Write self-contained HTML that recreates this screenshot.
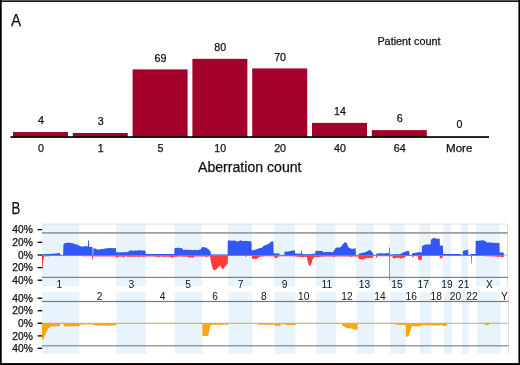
<!DOCTYPE html>
<html><head><meta charset="utf-8"><title>Figure</title>
<style>html,body{margin:0;padding:0;background:#fff}svg{display:block}text{font-family:"Liberation Sans",sans-serif;fill:#111}</style>
</head><body>
<svg width="520" height="365" viewBox="0 0 520 365">
<rect x="0" y="0" width="520" height="365" fill="#fff"/>
<text x="11.1" y="25.6" font-size="16.2" textLength="10.1" lengthAdjust="spacingAndGlyphs" stroke="#111" stroke-width="0.25">A</text>
<rect x="13.00" y="132.05" width="55" height="5.05" fill="#a20029"/>
<text x="40.90" y="124.00" font-size="10.7" text-anchor="middle" stroke="#111" stroke-width="0.25">4</text>
<text x="40.90" y="152.10" font-size="10.7" text-anchor="middle" stroke="#111" stroke-width="0.25">0</text>
<rect x="72.80" y="133.01" width="55" height="4.09" fill="#a20029"/>
<text x="100.70" y="125.00" font-size="10.7" text-anchor="middle" stroke="#111" stroke-width="0.25">3</text>
<text x="100.70" y="152.10" font-size="10.7" text-anchor="middle" stroke="#111" stroke-width="0.25">1</text>
<rect x="132.60" y="69.42" width="55" height="67.68" fill="#a20029"/>
<text x="160.50" y="61.90" font-size="10.7" text-anchor="middle" stroke="#111" stroke-width="0.25">69</text>
<text x="160.50" y="152.10" font-size="10.7" text-anchor="middle" stroke="#111" stroke-width="0.25">5</text>
<rect x="192.40" y="58.82" width="55" height="78.28" fill="#a20029"/>
<text x="220.30" y="51.10" font-size="10.7" text-anchor="middle" stroke="#111" stroke-width="0.25">80</text>
<text x="220.30" y="152.10" font-size="10.7" text-anchor="middle" stroke="#111" stroke-width="0.25">10</text>
<rect x="252.20" y="68.45" width="55" height="68.65" fill="#a20029"/>
<text x="280.10" y="61.40" font-size="10.7" text-anchor="middle" stroke="#111" stroke-width="0.25">70</text>
<text x="280.10" y="152.10" font-size="10.7" text-anchor="middle" stroke="#111" stroke-width="0.25">20</text>
<rect x="312.00" y="122.85" width="55" height="14.25" fill="#a20029"/>
<text x="339.90" y="115.00" font-size="10.7" text-anchor="middle" stroke="#111" stroke-width="0.25">14</text>
<text x="339.90" y="152.10" font-size="10.7" text-anchor="middle" stroke="#111" stroke-width="0.25">40</text>
<rect x="371.80" y="130.12" width="55" height="6.98" fill="#a20029"/>
<text x="399.70" y="122.00" font-size="10.7" text-anchor="middle" stroke="#111" stroke-width="0.25">6</text>
<text x="399.70" y="152.10" font-size="10.7" text-anchor="middle" stroke="#111" stroke-width="0.25">64</text>
<text x="459.50" y="128.00" font-size="10.7" text-anchor="middle" stroke="#111" stroke-width="0.25">0</text>
<text x="446" y="152.1" font-size="11" textLength="26.4" lengthAdjust="spacingAndGlyphs" stroke="#111" stroke-width="0.25">More</text>
<rect x="10.4" y="136.20" width="478.6" height="1.7" fill="#000"/>
<text x="377.4" y="45" font-size="11.2" textLength="63.2" lengthAdjust="spacingAndGlyphs" stroke="#111" stroke-width="0.25">Patient count</text>
<text x="198" y="172.4" font-size="14" textLength="103.5" lengthAdjust="spacingAndGlyphs" stroke="#111" stroke-width="0.25">Aberration count</text>
<text x="11.4" y="214" font-size="15.6" textLength="8.8" lengthAdjust="spacingAndGlyphs" stroke="#111" stroke-width="0.25">B</text>
<rect x="42.00" y="223.9" width="37.20" height="62.3" fill="#e8f3fc"/>
<rect x="42.00" y="292.3" width="37.28" height="61.5" fill="#e8f3fc"/>
<rect x="116.20" y="223.9" width="29.55" height="62.3" fill="#e8f3fc"/>
<rect x="116.36" y="292.3" width="29.61" height="61.5" fill="#e8f3fc"/>
<rect x="174.50" y="223.9" width="27.40" height="62.3" fill="#e8f3fc"/>
<rect x="174.78" y="292.3" width="27.46" height="61.5" fill="#e8f3fc"/>
<rect x="228.10" y="223.9" width="23.90" height="62.3" fill="#e8f3fc"/>
<rect x="228.49" y="292.3" width="23.95" height="61.5" fill="#e8f3fc"/>
<rect x="274.10" y="223.9" width="20.90" height="62.3" fill="#e8f3fc"/>
<rect x="274.59" y="292.3" width="20.94" height="61.5" fill="#e8f3fc"/>
<rect x="315.80" y="223.9" width="19.60" height="62.3" fill="#e8f3fc"/>
<rect x="316.37" y="292.3" width="19.64" height="61.5" fill="#e8f3fc"/>
<rect x="356.10" y="223.9" width="17.50" height="62.3" fill="#e8f3fc"/>
<rect x="356.76" y="292.3" width="17.54" height="61.5" fill="#e8f3fc"/>
<rect x="389.45" y="223.9" width="15.55" height="62.3" fill="#e8f3fc"/>
<rect x="390.18" y="292.3" width="15.58" height="61.5" fill="#e8f3fc"/>
<rect x="419.00" y="223.9" width="11.60" height="62.3" fill="#e8f3fc"/>
<rect x="419.79" y="292.3" width="11.62" height="61.5" fill="#e8f3fc"/>
<rect x="443.00" y="223.9" width="8.30" height="62.3" fill="#e8f3fc"/>
<rect x="443.84" y="292.3" width="8.32" height="61.5" fill="#e8f3fc"/>
<rect x="461.10" y="223.9" width="6.90" height="62.3" fill="#e8f3fc"/>
<rect x="461.98" y="292.3" width="6.91" height="61.5" fill="#e8f3fc"/>
<rect x="476.25" y="223.9" width="23.35" height="62.3" fill="#e8f3fc"/>
<rect x="477.16" y="292.3" width="23.40" height="61.5" fill="#e8f3fc"/>
<path d="M42 224.1H507.5V286.2" fill="none" stroke="#e0e0e0" stroke-width="1"/>
<path d="M508.5 292.3V353.8" fill="none" stroke="#e0e0e0" stroke-width="1"/>
<rect x="42" y="232.05" width="465.80" height="1.70" fill="#9c9c9c"/>
<rect x="42" y="276.80" width="465.80" height="1.20" fill="#808080"/>
<rect x="42" y="300.90" width="466.80" height="1.20" fill="#7a7a7a"/>
<rect x="42" y="345.23" width="466.80" height="1.15" fill="#808080"/>
<rect x="42" y="254.7" width="465.5" height="0.9" fill="#a8a8a8"/>
<rect x="42" y="322.8" width="466.5" height="0.9" fill="#b9ab92"/>
<rect x="37.6" y="228.95" width="4.6" height="1.3" fill="#000"/>
<text x="32.8" y="233.30" font-size="10.25" text-anchor="end" stroke="#111" stroke-width="0.25">40%</text>
<rect x="37.6" y="241.65" width="4.6" height="1.3" fill="#000"/>
<text x="32.8" y="246.00" font-size="10.25" text-anchor="end" stroke="#111" stroke-width="0.25">20%</text>
<rect x="37.6" y="254.35" width="4.6" height="1.3" fill="#000"/>
<text x="32.8" y="258.70" font-size="10.25" text-anchor="end" stroke="#111" stroke-width="0.25">0%</text>
<rect x="37.6" y="266.95" width="4.6" height="1.3" fill="#000"/>
<text x="32.8" y="271.30" font-size="10.25" text-anchor="end" stroke="#111" stroke-width="0.25">20%</text>
<rect x="37.6" y="279.55" width="4.6" height="1.3" fill="#000"/>
<text x="32.8" y="283.90" font-size="10.25" text-anchor="end" stroke="#111" stroke-width="0.25">40%</text>
<rect x="37.6" y="297.55" width="4.6" height="1.3" fill="#000"/>
<text x="32.8" y="301.90" font-size="10.25" text-anchor="end" stroke="#111" stroke-width="0.25">40%</text>
<rect x="37.6" y="310.10" width="4.6" height="1.3" fill="#000"/>
<text x="32.8" y="314.45" font-size="10.25" text-anchor="end" stroke="#111" stroke-width="0.25">20%</text>
<rect x="37.6" y="322.60" width="4.6" height="1.3" fill="#000"/>
<text x="32.8" y="326.95" font-size="10.25" text-anchor="end" stroke="#111" stroke-width="0.25">0%</text>
<rect x="37.6" y="335.25" width="4.6" height="1.3" fill="#000"/>
<text x="32.8" y="339.60" font-size="10.25" text-anchor="end" stroke="#111" stroke-width="0.25">20%</text>
<rect x="37.6" y="347.65" width="4.6" height="1.3" fill="#000"/>
<text x="32.8" y="352.00" font-size="10.25" text-anchor="end" stroke="#111" stroke-width="0.25">40%</text>
<polygon fill="#3356f4" points="42.50,255.20 42.50,254.30 43.12,254.27 43.75,254.23 44.38,254.20 45.00,254.17 45.62,254.13 46.25,254.10 46.88,254.07 47.50,254.03 48.12,254.00 48.75,253.97 49.38,253.93 50.00,253.90 50.62,253.86 51.25,253.82 51.88,253.79 52.50,253.75 53.12,253.71 53.75,253.57 54.38,253.43 55.00,253.60 55.62,253.64 56.25,253.24 56.88,253.47 57.50,253.32 58.12,253.08 58.75,253.30 59.38,252.97 60.00,253.20 60.40,255.00 60.40,255.20"/>
<polygon fill="#3356f4" points="63.20,255.20 63.20,255.00 63.40,245.00 64.20,243.40 64.90,243.24 65.60,242.89 66.30,242.78 67.00,242.90 67.60,242.83 68.20,243.06 68.80,242.61 69.40,242.65 70.00,242.80 70.67,242.98 71.33,243.27 72.00,243.10 72.60,243.33 73.20,243.40 73.80,243.93 74.40,243.55 75.00,244.00 75.67,244.48 76.33,244.41 77.00,244.59 77.67,244.84 78.33,245.22 79.00,245.60 79.60,246.03 80.20,245.89 80.80,246.37 81.40,246.64 82.00,246.80 82.67,246.62 83.33,246.63 84.00,246.24 84.67,246.14 85.33,246.12 86.00,246.20 86.63,246.37 87.27,246.29 87.90,246.40 88.10,241.00 88.50,239.80 89.00,241.00 89.30,246.80 89.96,246.73 90.62,246.93 91.28,246.89 91.94,246.84 92.60,247.00 92.60,255.20"/>
<polygon fill="#3356f4" points="93.20,255.20 93.20,255.00 93.30,248.00 93.97,248.43 94.65,248.62 95.33,248.60 96.00,249.00 96.67,249.24 97.33,249.42 98.00,249.60 98.62,249.75 99.25,249.59 99.88,249.25 100.50,249.59 101.12,249.00 101.75,249.10 102.38,249.23 103.00,249.00 103.61,248.66 104.23,248.74 104.84,248.34 105.46,248.59 106.07,248.52 106.69,248.27 107.30,248.10 107.97,248.31 108.64,247.96 109.31,248.17 109.99,248.10 110.66,248.08 111.33,247.99 112.00,248.00 112.65,248.22 113.30,248.30 113.95,248.03 114.60,248.17 115.25,247.82 115.90,248.10 116.10,252.10 116.76,252.25 117.41,252.25 118.07,252.50 118.72,252.43 119.38,252.14 120.03,252.23 120.69,252.43 121.34,252.08 122.00,252.40 122.62,252.35 123.25,252.15 123.88,252.10 124.50,252.04 125.12,252.44 125.75,252.03 126.38,252.07 127.00,252.20 127.75,251.73 128.50,251.40 129.13,251.36 129.77,250.62 130.40,250.60 131.03,250.56 131.67,250.61 132.30,250.81 132.93,250.76 133.57,250.78 134.20,250.42 134.83,250.49 135.47,250.45 136.10,250.76 136.73,250.79 137.37,250.30 138.00,250.50 138.61,250.31 139.22,250.36 139.82,250.37 140.43,250.52 141.04,250.60 141.65,250.41 142.26,250.26 142.87,250.52 143.48,250.50 144.08,250.62 144.69,250.86 145.30,250.60 145.70,253.90 146.32,253.90 146.94,253.90 147.57,253.90 148.19,253.90 148.81,253.90 149.43,253.90 150.05,253.90 150.67,253.90 151.30,253.90 151.92,253.90 152.54,253.90 153.16,253.90 153.78,253.90 154.40,253.90 155.03,253.90 155.65,253.90 156.27,253.90 156.89,253.90 157.51,253.90 158.13,253.90 158.76,253.90 159.38,253.90 160.00,253.90 160.62,253.90 161.24,253.91 161.87,253.91 162.49,253.92 163.11,253.92 163.73,253.93 164.35,253.93 164.97,253.93 165.60,253.94 166.22,253.94 166.84,253.95 167.46,253.95 168.08,253.96 168.70,253.96 169.33,253.97 169.95,253.97 170.57,253.97 171.19,253.98 171.81,253.98 172.43,253.99 173.06,253.99 173.68,254.00 174.30,254.00 174.50,248.00 175.20,248.05 175.90,247.89 176.60,247.89 177.30,247.87 178.00,247.70 178.61,247.49 179.23,248.05 179.84,248.04 180.46,248.15 181.07,248.16 181.69,247.98 182.30,248.10 182.60,249.80 183.22,249.77 183.83,249.63 184.45,249.98 185.07,249.67 185.68,249.71 186.30,249.83 186.92,249.83 187.53,249.97 188.15,249.83 188.77,249.83 189.38,249.96 190.00,250.20 190.60,249.94 191.20,250.08 191.80,249.86 192.40,250.34 193.00,250.17 193.60,249.87 194.20,249.91 194.80,249.95 195.40,249.94 196.00,249.77 196.60,250.19 197.20,250.26 197.80,249.92 198.40,249.91 199.00,249.90 199.67,249.48 200.33,249.33 201.00,249.40 201.40,247.80 202.20,247.31 203.00,247.00 203.67,246.99 204.33,247.46 205.00,247.40 205.67,247.43 206.33,247.58 207.00,248.10 207.67,248.94 208.33,249.25 209.00,249.80 209.80,250.49 210.60,251.60 210.90,254.60 211.51,254.60 212.11,254.60 212.72,254.60 213.33,254.60 213.93,254.60 214.54,254.60 215.15,254.60 215.75,254.60 216.36,254.60 216.97,254.60 217.57,254.60 218.18,254.60 218.79,254.60 219.39,254.60 220.00,254.60 220.63,254.60 221.27,254.60 221.90,254.60 222.53,254.60 223.17,254.60 223.80,254.60 224.43,254.60 225.07,254.60 225.70,254.60 226.33,254.60 226.97,254.60 227.60,254.60 227.80,240.60 228.50,240.61 229.20,240.28 229.90,240.57 230.60,240.82 231.30,240.73 232.00,240.50 232.63,240.65 233.27,240.42 233.90,240.52 234.53,240.43 235.17,240.83 235.80,240.70 237.00,241.80 237.75,241.52 238.50,241.20 239.13,241.10 239.77,240.56 240.40,240.40 241.02,240.30 241.64,240.72 242.27,240.89 242.89,240.88 243.51,240.92 244.13,240.99 244.76,241.01 245.38,240.77 246.00,241.00 246.67,241.08 247.34,241.06 248.01,240.93 248.69,241.00 249.36,241.22 250.03,241.28 250.70,241.50 251.50,241.60 251.70,250.40 252.36,250.36 253.02,250.35 253.68,249.89 254.34,250.02 255.00,249.60 255.60,249.73 256.20,249.55 256.80,249.04 257.40,248.79 258.00,248.80 258.67,248.42 259.33,248.18 260.00,247.97 260.67,248.01 261.33,247.96 262.00,247.50 262.85,246.85 263.70,245.80 264.37,245.54 265.03,245.39 265.70,245.23 266.37,244.55 267.03,244.65 267.70,244.30 268.30,244.11 268.90,243.60 269.50,243.00 270.30,242.40 271.10,241.50 271.87,241.49 272.63,241.31 273.40,241.50 273.60,253.30 274.24,253.47 274.89,253.20 275.53,253.48 276.18,253.58 276.82,253.24 277.47,253.24 278.11,253.57 278.76,253.43 279.40,253.30 279.60,255.00 279.60,255.20"/>
<polygon fill="#3356f4" points="284.30,255.20 284.30,255.00 284.50,251.90 285.20,251.60 285.90,251.48 286.60,251.39 287.30,251.74 288.00,251.40 288.60,251.46 289.20,250.95 289.80,251.24 290.40,251.21 291.00,250.80 291.64,250.81 292.28,250.55 292.92,250.59 293.56,250.26 294.20,250.40 294.90,250.60 295.10,253.50 295.76,253.21 296.41,253.78 297.07,253.59 297.72,253.52 298.38,253.76 299.03,253.46 299.69,253.72 300.34,253.70 301.00,253.50 301.40,250.80 302.00,250.80 302.30,254.30 302.94,254.30 303.58,254.30 304.23,254.30 304.87,254.30 305.51,254.30 306.15,254.30 306.79,254.30 307.43,254.30 308.07,254.30 308.72,254.30 309.36,254.30 310.00,254.30 310.67,254.13 311.33,253.97 312.00,253.80 312.64,253.80 313.28,253.80 313.92,253.80 314.56,253.80 315.20,253.80 315.40,251.00 316.01,250.83 316.62,250.85 317.22,250.88 317.83,250.84 318.44,251.05 319.05,250.86 319.66,250.95 320.27,250.78 320.88,251.25 321.48,250.91 322.09,250.97 322.70,251.00 323.00,252.10 323.62,252.15 324.25,252.34 324.88,252.05 325.50,252.35 326.12,252.10 326.75,252.12 327.38,252.11 328.00,251.81 328.62,252.06 329.25,251.91 329.88,251.80 330.50,252.28 331.12,251.90 331.75,252.08 332.38,252.24 333.00,252.10 333.75,251.08 334.50,250.00 335.25,248.65 336.00,247.50 336.66,247.50 337.31,247.50 337.97,247.63 338.63,247.21 339.29,247.46 339.94,247.26 340.60,247.40 341.23,246.40 341.87,245.83 342.50,244.80 343.20,243.97 343.90,243.17 344.60,242.30 345.45,242.51 346.30,242.40 347.50,245.00 348.60,247.50 349.28,248.03 349.96,248.03 350.64,248.41 351.32,248.62 352.00,248.90 352.60,248.77 353.20,248.75 353.80,248.47 354.40,248.39 355.00,248.22 355.60,248.10 355.90,255.00 355.90,255.20"/>
<polygon fill="#3356f4" points="358.80,255.20 358.80,255.00 359.00,253.30 359.60,253.46 360.20,253.22 360.80,253.23 361.40,253.17 362.00,252.80 362.67,252.52 363.33,252.57 364.00,252.67 364.67,252.47 365.33,251.92 366.00,252.00 366.67,251.44 367.33,251.30 368.00,251.00 368.80,250.24 369.60,250.00 370.30,250.34 371.00,251.00 371.67,251.51 372.33,252.64 373.00,253.30 373.30,255.00 373.30,255.20"/>
<polygon fill="#3356f4" points="376.20,255.20 376.20,255.00 376.40,253.40 377.00,253.55 377.60,253.60 378.20,253.14 378.80,253.46 379.40,253.41 380.00,253.30 380.64,253.09 381.27,253.53 381.91,253.58 382.54,253.13 383.18,253.57 383.81,253.24 384.45,253.29 385.09,253.59 385.72,253.50 386.36,253.10 386.99,253.26 387.63,253.31 388.26,253.20 388.90,253.30 389.00,247.50 389.70,247.50 389.80,254.60 390.52,254.55 391.25,254.50 391.98,254.45 392.70,254.40 393.31,254.38 393.92,254.37 394.52,254.35 395.13,254.33 395.74,254.32 396.35,254.30 396.96,254.28 397.57,254.27 398.18,254.25 398.78,254.23 399.39,254.22 400.00,254.20 400.70,253.85 401.40,253.32 402.10,253.04 402.80,252.93 403.50,252.16 404.20,252.10 404.80,251.90 405.40,251.60 406.00,251.40 406.77,250.98 407.53,251.03 408.30,251.00 409.30,251.20 409.50,255.00 409.50,255.20"/>
<polygon fill="#3356f4" points="411.90,255.20 411.90,255.00 412.10,253.30 412.83,253.25 413.55,253.06 414.27,252.66 415.00,252.80 415.60,252.99 416.20,252.77 416.80,252.78 417.40,252.16 418.00,252.30 418.63,252.18 419.27,252.06 419.90,252.52 420.53,252.23 421.17,252.16 421.80,252.40 422.00,246.10 422.67,245.69 423.33,245.61 424.00,245.00 424.67,244.99 425.33,244.46 426.00,244.40 426.67,244.19 427.34,244.65 428.01,244.44 428.69,244.52 429.36,244.15 430.03,244.13 430.70,244.40 430.90,239.80 431.70,239.31 432.50,238.60 433.25,238.16 434.00,237.80 434.67,237.81 435.33,238.60 436.00,238.60 436.62,238.71 437.23,238.85 437.85,238.45 438.47,238.95 439.08,238.51 439.70,238.80 439.90,245.40 440.50,245.66 441.10,245.45 441.70,245.42 442.30,245.59 442.90,245.60 443.10,254.00 443.74,254.00 444.37,254.00 445.01,254.00 445.64,254.00 446.28,254.00 446.91,254.00 447.55,254.00 448.19,254.00 448.82,254.00 449.46,254.00 450.09,254.00 450.73,254.00 451.36,254.00 452.00,254.00 452.60,254.00 453.20,254.00 453.80,254.00 454.40,254.00 455.00,254.00 455.60,254.00 456.20,254.00 456.80,254.00 457.40,254.00 458.00,254.00 458.60,254.00 459.20,254.00 459.80,254.00 460.40,254.00 461.00,254.00 461.30,255.00 461.30,255.20"/>
<polygon fill="#3356f4" points="462.70,255.20 462.70,255.00 462.90,250.80 463.52,250.94 464.14,250.42 464.76,250.22 465.38,250.34 466.00,250.20 466.73,249.91 467.47,249.70 468.20,249.80 468.40,255.00 468.40,255.20"/>
<polygon fill="#3356f4" points="470.40,255.20 470.40,255.00 470.50,254.00 471.12,254.00 471.75,254.00 472.38,254.00 473.00,254.00 473.62,254.00 474.25,254.00 474.88,254.00 475.50,254.00 475.70,241.00 476.36,240.76 477.02,240.65 477.68,240.70 478.34,240.73 479.00,240.80 479.70,240.56 480.40,240.72 481.10,240.31 481.80,240.32 482.50,240.20 483.25,240.21 484.00,240.60 484.60,240.89 485.20,241.07 485.80,241.59 486.40,241.83 487.00,242.50 487.60,242.66 488.20,242.57 488.80,242.37 489.40,242.56 490.00,242.86 490.60,242.38 491.20,242.83 491.80,242.62 492.40,242.68 493.00,242.70 493.65,242.92 494.30,242.68 494.95,242.76 495.60,242.89 496.25,243.09 496.90,242.73 497.55,243.04 498.20,242.98 498.85,242.96 499.50,242.90 499.70,252.50 500.37,252.48 501.03,252.48 501.70,252.33 502.37,252.41 503.03,252.41 503.70,252.70 503.90,255.00 503.90,255.20"/>
<polygon fill="#ff3b3b" points="42.00,255.20 42.00,269.00 42.60,268.60 43.00,262.00 43.60,258.00 44.40,256.40 45.02,256.37 45.64,256.33 46.27,256.30 46.89,256.27 47.51,256.23 48.13,256.20 48.76,256.17 49.38,256.13 50.00,256.10 50.62,256.09 51.25,256.09 51.88,256.08 52.50,256.08 53.12,256.07 53.75,256.06 54.38,256.06 55.00,256.05 55.62,256.04 56.25,256.04 56.88,256.03 57.50,256.02 58.12,256.02 58.75,256.01 59.38,256.01 60.00,256.00 60.60,255.98 61.20,255.96 61.80,255.94 62.40,255.92 63.00,255.90 63.61,255.90 64.21,255.91 64.82,255.91 65.43,255.91 66.04,255.92 66.64,255.92 67.25,255.93 67.86,255.93 68.46,255.93 69.07,255.94 69.68,255.94 70.29,255.94 70.89,255.95 71.50,255.95 72.11,255.95 72.71,255.96 73.32,255.96 73.93,255.96 74.54,255.97 75.14,255.97 75.75,255.97 76.36,255.98 76.96,255.98 77.57,255.99 78.18,255.99 78.79,255.99 79.39,256.00 80.00,256.00 80.62,256.05 81.25,256.10 81.88,256.15 82.50,256.20 83.12,256.25 83.75,256.30 84.38,256.35 85.00,256.40 85.64,256.38 86.27,256.36 86.91,256.35 87.55,256.33 88.18,256.31 88.82,256.29 89.45,256.27 90.09,256.25 90.73,256.24 91.36,256.22 92.00,256.20 92.10,259.60 92.90,259.60 93.00,256.40 93.62,256.41 94.25,256.42 94.88,256.44 95.50,256.45 96.12,256.46 96.75,256.48 97.38,256.49 98.00,256.50 98.64,256.51 99.27,256.52 99.91,256.53 100.55,256.54 101.18,256.55 101.82,256.55 102.45,256.56 103.09,256.57 103.73,256.58 104.36,256.59 105.00,256.60 105.61,256.59 106.22,256.59 106.83,256.58 107.44,256.58 108.06,256.57 108.67,256.57 109.28,256.56 109.89,256.56 110.50,256.55 111.11,256.54 111.72,256.54 112.33,256.53 112.94,256.53 113.56,256.52 114.17,256.52 114.78,256.51 115.39,256.51 116.00,256.50 116.40,257.60 116.80,258.00 117.60,257.00 118.30,256.92 119.00,256.60 119.70,256.64 120.40,256.68 121.10,256.60 121.80,256.59 122.50,256.80 123.50,257.60 124.50,256.60 125.12,256.61 125.74,256.61 126.35,256.62 126.97,256.62 127.59,256.63 128.21,256.64 128.82,256.64 129.44,256.65 130.06,256.65 130.68,256.66 131.29,256.66 131.91,256.67 132.53,256.68 133.15,256.68 133.76,256.69 134.38,256.69 135.00,256.70 135.62,256.69 136.23,256.68 136.85,256.68 137.46,256.67 138.08,256.66 138.69,256.65 139.31,256.65 139.92,256.64 140.54,256.63 141.15,256.62 141.77,256.62 142.38,256.61 143.00,256.60 144.00,257.60 145.00,256.60 145.62,256.59 146.25,256.58 146.88,256.56 147.50,256.55 148.12,256.54 148.75,256.52 149.38,256.51 150.00,256.50 150.60,256.52 151.20,256.53 151.80,256.55 152.40,256.56 153.00,256.58 153.60,256.59 154.20,256.61 154.80,256.62 155.40,256.64 156.00,256.65 156.60,256.67 157.20,256.68 157.80,256.70 158.80,257.40 160.00,256.60 160.62,256.62 161.25,256.65 161.88,256.68 162.50,256.49 163.12,256.90 163.75,256.94 164.38,256.86 165.00,256.80 165.60,256.69 166.20,256.67 166.80,256.70 167.40,256.78 168.00,256.63 168.60,256.77 169.20,256.68 169.80,257.03 170.40,257.04 171.00,256.80 171.65,257.57 172.30,258.30 172.95,257.42 173.60,256.80 174.24,257.00 174.88,256.64 175.52,256.64 176.16,256.68 176.80,256.65 177.44,256.62 178.08,256.59 178.72,256.56 179.36,256.53 180.00,256.50 180.62,256.52 181.25,256.55 181.88,256.57 182.50,256.60 183.12,256.62 183.75,256.65 184.38,256.68 185.00,256.70 185.62,256.48 186.25,256.69 186.88,256.76 187.50,256.80 188.15,257.30 188.80,257.80 189.53,257.55 190.27,257.60 191.00,257.50 191.60,257.33 192.20,257.53 192.80,257.52 193.40,257.80 194.50,256.60 195.11,256.58 195.72,256.56 196.33,256.53 196.94,256.51 197.56,256.49 198.17,256.47 198.78,256.44 199.39,256.42 200.00,256.40 200.62,256.40 201.24,256.40 201.87,256.40 202.49,256.40 203.11,256.40 203.73,256.40 204.36,256.40 204.98,256.40 205.60,256.40 206.30,258.00 207.00,256.40 207.64,256.40 208.28,256.40 208.92,256.40 209.56,256.40 210.20,256.40 210.60,260.00 211.30,263.25 212.00,266.60 213.00,269.40 213.70,269.67 214.40,270.40 215.20,269.76 216.00,269.60 216.67,268.90 217.33,268.27 218.00,267.80 218.73,267.04 219.47,266.21 220.20,265.40 220.85,266.53 221.50,267.40 222.15,268.48 222.80,269.40 224.00,268.00 224.75,267.11 225.50,266.00 226.30,265.34 227.10,264.30 227.70,264.00 227.90,255.90 228.50,255.90 229.11,255.90 229.72,255.90 230.32,255.90 230.93,255.90 231.53,255.90 232.13,255.90 232.74,255.90 233.34,255.90 233.95,255.90 234.56,255.90 235.16,255.90 235.77,255.90 236.37,255.90 236.97,255.90 237.58,255.90 238.19,255.90 238.79,255.90 239.40,255.90 240.00,255.90 240.62,255.91 241.25,255.93 241.88,255.94 242.50,255.95 243.12,255.96 243.75,255.97 244.38,255.99 245.00,256.00 246.00,257.00 247.00,256.00 247.60,256.00 248.20,256.00 248.80,256.00 249.40,256.00 250.00,256.00 250.60,256.00 251.20,256.00 251.80,256.00 252.00,258.80 252.60,258.76 253.20,258.75 253.80,259.10 254.40,258.70 255.00,258.90 255.67,258.98 256.33,258.90 257.00,258.80 257.75,257.97 258.50,257.60 259.25,257.37 260.00,256.80 260.67,256.67 261.33,256.53 262.00,256.40 262.62,256.39 263.23,256.38 263.85,256.38 264.46,256.37 265.08,256.36 265.69,256.35 266.31,256.35 266.92,256.34 267.54,256.33 268.15,256.32 268.77,256.32 269.38,256.31 270.00,256.30 270.63,256.31 271.26,256.33 271.89,256.34 272.51,256.36 273.14,256.37 273.77,256.39 274.40,256.40 274.70,258.00 275.38,258.20 276.05,258.06 276.72,258.12 277.40,258.00 278.00,256.40 278.60,256.39 279.20,256.38 279.80,256.37 280.40,256.36 281.00,256.35 281.60,256.34 282.20,256.33 282.80,256.32 283.40,256.31 284.00,256.30 284.60,256.29 285.20,256.28 285.80,256.27 286.40,256.26 287.00,256.25 287.60,256.24 288.20,256.23 288.80,256.22 289.40,256.21 290.00,256.20 290.62,256.24 291.25,256.27 291.88,256.31 292.50,256.35 293.12,256.39 293.75,256.43 294.38,256.46 295.00,256.50 295.62,256.55 296.25,256.60 296.88,256.65 297.50,256.70 298.12,256.91 298.75,256.62 299.38,256.86 300.00,256.90 300.62,256.89 301.25,257.04 301.88,257.01 302.50,257.01 303.12,256.88 303.75,257.02 304.38,256.90 305.00,256.80 305.60,256.96 306.20,256.80 306.80,257.00 307.30,259.00 308.00,262.40 309.20,266.20 309.85,265.67 310.50,265.60 311.50,263.20 312.50,259.60 313.50,258.20 314.17,257.62 314.83,257.33 315.50,257.00 316.13,256.77 316.77,257.10 317.40,256.93 318.03,256.93 318.67,256.90 319.30,256.89 319.93,256.76 320.57,256.48 321.20,256.70 321.83,256.67 322.47,256.63 323.10,256.60 323.73,256.57 324.37,256.53 325.00,256.50 325.62,256.51 326.23,256.52 326.85,256.52 327.46,256.53 328.08,256.54 328.69,256.55 329.31,256.55 329.92,256.56 330.54,256.57 331.15,256.58 331.77,256.58 332.38,256.59 333.00,256.60 334.00,257.30 335.00,256.50 335.62,256.51 336.25,256.51 336.88,256.52 337.50,256.52 338.12,256.53 338.75,256.54 339.38,256.54 340.00,256.55 340.62,256.56 341.25,256.56 341.88,256.57 342.50,256.58 343.12,256.58 343.75,256.59 344.38,256.59 345.00,256.60 345.62,256.60 346.25,256.60 346.88,256.60 347.50,256.60 348.12,256.60 348.75,256.60 349.38,256.60 350.00,256.60 351.00,257.30 352.00,256.60 352.67,256.57 353.33,256.53 354.00,256.50 354.67,256.47 355.33,256.43 356.00,256.40 356.73,256.40 357.47,256.40 358.20,256.40 358.60,258.40 359.30,258.95 360.00,259.32 360.70,259.60 361.43,259.60 362.15,259.62 362.88,259.68 363.60,259.60 364.40,258.92 365.20,258.79 366.00,258.20 366.67,258.04 367.33,257.92 368.00,257.98 368.67,258.18 369.33,257.89 370.00,258.00 370.67,258.12 371.33,258.24 372.00,258.00 372.65,257.60 373.30,257.20 373.50,255.90 374.12,255.90 374.75,255.90 375.38,255.90 376.00,255.90 376.20,258.00 376.80,258.00 377.00,256.20 377.62,256.20 378.23,256.20 378.85,256.20 379.46,256.20 380.08,256.20 380.69,256.20 381.31,256.20 381.92,256.20 382.54,256.20 383.15,256.20 383.77,256.20 384.38,256.20 385.00,256.20 385.68,256.20 386.35,256.20 387.02,256.20 387.70,256.20 388.38,256.20 389.05,256.20 389.10,280.60 389.80,280.60 389.85,256.20 390.54,256.25 391.23,256.30 391.91,256.35 392.60,256.40 392.80,258.00 394.00,258.40 394.67,258.21 395.33,258.12 396.00,258.09 396.67,258.00 397.33,257.79 398.00,257.60 398.60,257.85 399.20,257.75 399.80,257.96 400.40,258.20 401.00,258.50 401.60,258.48 402.20,258.12 402.80,258.11 403.40,257.70 404.00,257.80 404.70,257.38 405.40,257.40 405.60,256.00 406.24,256.00 406.88,256.00 407.52,256.00 408.16,256.00 408.80,256.00 409.44,256.00 410.08,256.00 410.72,256.00 411.36,256.00 412.00,256.00 412.50,257.40 413.30,257.40 413.80,256.00 414.47,256.03 415.13,256.07 415.80,256.10 416.47,256.13 417.13,256.17 417.80,256.20 418.00,259.40 418.67,259.52 419.33,259.95 420.00,260.10 420.60,259.96 421.20,259.72 421.80,259.40 422.00,256.00 422.62,255.99 423.23,255.98 423.85,255.98 424.46,255.97 425.08,255.96 425.69,255.95 426.31,255.95 426.92,255.94 427.54,255.93 428.15,255.92 428.77,255.92 429.38,255.91 430.00,255.90 430.60,255.91 431.20,255.91 431.80,255.92 432.40,255.93 433.00,255.93 433.60,255.94 434.20,255.94 434.80,255.95 435.40,255.96 436.00,255.96 436.60,255.97 437.20,255.97 437.80,255.98 438.40,255.99 439.00,255.99 439.60,256.00 439.80,258.00 441.00,258.40 441.80,258.00 442.60,257.80 442.80,255.90 443.41,255.90 444.02,255.90 444.63,255.90 445.24,255.90 445.85,255.90 446.46,255.90 447.07,255.90 447.68,255.90 448.29,255.90 448.90,255.90 449.51,255.90 450.12,255.90 450.73,255.90 451.34,255.90 451.95,255.90 452.56,255.90 453.17,255.90 453.78,255.90 454.39,255.90 455.00,255.90 455.62,255.91 456.25,255.91 456.88,255.92 457.50,255.93 458.12,255.93 458.75,255.94 459.38,255.94 460.00,255.95 460.62,255.96 461.25,255.96 461.88,255.97 462.50,255.97 463.12,255.98 463.75,255.99 464.38,255.99 465.00,256.00 465.61,256.00 466.22,256.00 466.83,256.00 467.44,256.00 468.05,256.00 468.66,256.00 469.27,256.00 469.88,256.00 470.49,256.00 471.10,256.00 471.20,263.40 471.90,263.40 472.00,256.00 472.62,256.00 473.23,256.00 473.85,256.00 474.46,256.00 475.08,256.00 475.69,256.00 476.31,256.00 476.92,256.00 477.54,256.00 478.15,256.00 478.77,256.00 479.38,256.00 480.00,256.00 480.62,256.02 481.25,256.04 481.88,256.06 482.50,256.07 483.12,256.09 483.75,256.11 484.38,256.13 485.00,256.15 485.62,256.17 486.25,256.19 486.88,256.21 487.50,256.23 488.12,256.24 488.75,256.26 489.38,256.28 490.00,256.30 490.62,256.33 491.23,256.36 491.85,256.39 492.46,256.42 493.08,256.45 493.69,256.48 494.31,256.52 494.92,256.55 495.54,256.58 496.15,256.61 496.77,256.64 497.38,256.67 498.00,256.70 498.62,256.76 499.24,256.79 499.87,256.85 500.49,256.73 501.11,257.17 501.73,256.88 502.36,257.33 502.98,257.36 503.60,257.20 503.80,255.20 503.80,255.20"/>
<polygon fill="#f8a812" points="42.00,322.90 42.00,340.00 43.00,339.40 44.00,338.00 45.01,335.00 45.71,333.11 46.41,331.60 47.51,329.80 48.11,328.93 48.71,328.10 49.57,327.48 50.42,326.60 51.07,326.74 51.72,326.48 52.37,326.36 53.02,326.40 53.69,326.27 54.36,326.54 55.03,326.23 55.70,326.37 56.36,326.17 57.03,326.30 57.70,326.28 58.37,326.41 59.04,326.20 59.79,325.20 60.54,324.50 61.04,323.60 61.67,323.60 62.29,323.60 62.92,323.60 63.55,323.60 63.85,326.20 64.47,326.36 65.09,326.26 65.71,326.44 66.33,326.40 66.95,326.24 67.57,326.54 68.19,326.40 68.82,326.25 69.44,326.27 70.06,326.50 70.69,326.47 71.31,326.43 71.94,326.35 72.56,326.26 73.19,326.31 73.82,326.28 74.44,326.46 75.07,326.30 75.70,326.09 76.33,326.37 76.96,326.39 77.59,326.09 78.22,326.40 78.85,326.30 79.48,326.20 79.68,324.50 80.28,324.65 80.88,324.40 81.48,324.43 82.08,324.43 82.69,324.66 83.29,324.49 83.89,324.39 84.49,324.41 85.09,324.35 85.69,324.25 86.29,324.26 86.89,324.55 87.50,324.32 88.10,324.40 88.72,324.59 89.35,324.32 89.98,324.34 90.60,324.45 91.23,324.34 91.85,324.42 92.48,324.67 93.11,324.50 93.71,325.40 94.35,325.57 94.99,325.56 95.63,325.51 96.27,325.65 96.92,325.68 97.56,325.54 98.20,325.63 98.84,325.38 99.48,325.67 100.12,325.60 100.74,325.60 101.36,325.73 101.97,325.70 102.59,325.58 103.21,325.50 103.82,325.86 104.44,325.56 105.06,325.71 105.67,325.68 106.29,325.67 106.91,325.86 107.52,325.98 108.14,325.80 108.76,325.67 109.37,325.80 109.99,325.63 110.61,325.70 111.22,325.60 111.84,325.48 112.46,325.45 113.07,325.44 113.69,325.69 114.31,325.49 114.92,325.35 115.54,325.59 116.16,325.40 116.56,324.30 116.56,322.90"/>
<polygon fill="#f8a812" points="199.33,322.90 199.33,323.80 199.93,323.84 200.53,323.88 201.13,323.92 201.73,323.96 202.34,324.00 202.44,336.00 203.16,336.25 203.89,336.08 204.62,336.01 205.34,336.20 206.02,335.98 206.70,335.84 207.37,335.84 208.05,335.80 208.75,333.00 209.55,329.00 210.65,325.60 211.35,324.80 211.96,324.64 212.56,324.70 213.16,324.70 213.76,324.83 214.36,324.95 214.96,324.90 215.56,324.77 216.16,324.77 216.77,324.81 217.37,324.75 217.97,324.74 218.57,324.62 219.17,324.71 219.77,324.99 220.37,324.80 220.99,324.63 221.61,324.77 222.22,324.81 222.84,324.88 223.46,324.61 224.07,324.62 224.69,324.59 225.31,324.64 225.92,324.64 226.54,324.83 227.16,324.77 227.77,324.76 228.39,324.60 228.69,323.80 228.69,322.90"/>
<polygon fill="#f8a812" points="255.45,322.90 255.45,323.80 256.05,323.96 256.65,324.12 257.25,324.28 257.85,324.25 258.45,324.60 259.05,324.42 259.66,324.70 260.26,324.79 260.86,324.63 261.46,324.68 262.06,324.46 262.66,324.63 263.26,324.85 263.86,324.82 264.47,324.84 265.07,324.90 265.67,324.62 266.27,324.57 266.87,324.60 267.47,324.76 268.07,324.83 268.68,324.95 269.28,324.87 269.88,324.85 270.48,324.80 271.11,324.88 271.74,324.73 272.37,324.73 273.00,324.50 273.63,324.77 274.26,324.52 274.89,324.60 275.09,325.90 275.69,326.07 276.29,325.96 276.89,325.82 277.49,325.75 278.09,325.80 278.70,325.95 279.30,325.98 279.90,325.74 280.50,325.90 280.70,324.20 281.30,324.20 281.90,324.20 282.50,324.20 283.11,324.20 283.71,324.20 284.31,324.20 284.91,324.20 285.51,324.20 285.71,325.10 286.32,324.93 286.94,325.11 287.55,325.13 288.17,325.06 288.78,324.99 289.39,325.14 290.01,324.90 290.62,325.02 291.23,325.08 291.85,325.28 292.46,325.16 293.08,325.25 293.69,325.09 294.30,324.99 294.92,325.00 295.53,325.10 295.73,323.80 295.73,322.90"/>
<polygon fill="#f8a812" points="341.63,322.90 341.63,323.80 342.03,324.40 342.63,325.80 343.23,326.34 343.83,326.60 344.43,326.80 345.04,327.05 345.64,327.60 346.26,327.72 346.89,327.92 347.52,327.94 348.14,328.00 348.77,328.29 349.39,328.52 350.02,328.37 350.65,328.60 351.31,328.55 351.98,328.80 352.65,328.97 353.32,329.21 353.99,329.15 354.66,329.40 355.36,329.67 356.06,329.80 356.76,329.85 357.46,330.00 357.66,323.80 357.66,322.90"/>
<polygon fill="#f8a812" points="395.24,322.90 395.24,323.80 395.44,324.70 396.10,324.61 396.77,324.94 397.43,324.70 398.10,324.93 398.76,324.72 399.42,324.74 400.09,324.98 400.75,324.90 401.37,324.82 401.98,325.08 402.59,324.90 403.21,324.77 403.82,324.79 404.43,324.87 405.05,324.97 405.66,324.90 405.86,336.60 406.63,336.81 407.40,336.53 408.17,336.70 409.17,334.40 409.82,332.96 410.47,331.60 411.27,328.60 412.08,326.00 412.68,325.99 413.28,326.20 413.98,326.43 414.68,326.14 415.38,326.14 416.08,326.18 416.79,326.40 417.45,326.32 418.12,326.49 418.79,326.45 419.46,326.36 420.13,326.43 420.79,326.20 421.09,325.20 421.70,325.38 422.31,325.14 422.92,325.09 423.52,325.40 424.13,325.33 424.74,325.05 425.35,325.31 425.95,325.20 426.56,325.21 427.17,325.20 427.78,325.14 428.38,325.08 428.99,325.19 429.60,325.23 430.21,325.48 430.81,325.30 431.45,325.18 432.09,325.54 432.73,325.26 433.37,325.35 434.00,325.56 434.64,325.59 435.28,325.46 435.92,325.34 436.55,325.53 437.19,325.52 437.83,325.60 438.43,325.67 439.03,325.28 439.63,325.25 440.23,325.36 440.84,325.10 441.44,325.09 442.04,325.42 442.64,325.76 443.24,325.93 443.84,326.00 444.44,325.82 445.04,325.81 445.65,325.83 446.25,326.17 446.85,326.00 447.15,323.80 447.15,322.90"/>
<polygon fill="#f8a812" points="484.93,322.90 484.93,323.80 485.13,325.00 485.76,324.90 486.40,325.10 487.03,325.16 487.67,324.94 488.30,324.91 488.94,325.00 489.14,323.80 489.14,322.90"/>
<path d="M116.4 323.4H199M228.3 323.4H255M295.2 323.4H341M357 323.4H394.5M477 323.4H500" stroke="#f8a812" stroke-width="1" stroke-opacity="0.5" fill="none"/>
<text x="59.30" y="287.5" font-size="10.2" text-anchor="middle">1</text>
<text x="131.25" y="287.5" font-size="10.2" text-anchor="middle">3</text>
<text x="188.10" y="287.5" font-size="10.2" text-anchor="middle">5</text>
<text x="240.60" y="287.5" font-size="10.2" text-anchor="middle">7</text>
<text x="284.50" y="287.5" font-size="10.2" text-anchor="middle">9</text>
<text x="326.90" y="287.5" font-size="10.2" text-anchor="middle">11</text>
<text x="364.50" y="287.5" font-size="10.2" text-anchor="middle">13</text>
<text x="397.00" y="287.5" font-size="10.2" text-anchor="middle">15</text>
<text x="423.20" y="287.5" font-size="10.2" text-anchor="middle">17</text>
<text x="446.90" y="287.5" font-size="10.2" text-anchor="middle">19</text>
<text x="463.75" y="287.5" font-size="10.2" text-anchor="middle">21</text>
<text x="489.40" y="287.5" font-size="10.2" text-anchor="middle">X</text>
<text x="99.60" y="299.8" font-size="10.2" text-anchor="middle">2</text>
<text x="162.50" y="299.8" font-size="10.2" text-anchor="middle">4</text>
<text x="215.00" y="299.8" font-size="10.2" text-anchor="middle">6</text>
<text x="263.75" y="299.8" font-size="10.2" text-anchor="middle">8</text>
<text x="303.75" y="299.8" font-size="10.2" text-anchor="middle">10</text>
<text x="347.00" y="299.8" font-size="10.2" text-anchor="middle">12</text>
<text x="380.00" y="299.8" font-size="10.2" text-anchor="middle">14</text>
<text x="411.25" y="299.8" font-size="10.2" text-anchor="middle">16</text>
<text x="436.25" y="299.8" font-size="10.2" text-anchor="middle">18</text>
<text x="455.50" y="299.8" font-size="10.2" text-anchor="middle">20</text>
<text x="472.00" y="299.8" font-size="10.2" text-anchor="middle">22</text>
<text x="504.40" y="299.8" font-size="10.2" text-anchor="middle">Y</text>
<rect x="0" y="0" width="520" height="1" fill="#666"/>
<rect x="0" y="0.9" width="520" height="1" fill="#000"/>
<rect x="0" y="0" width="1.7" height="365" fill="#000"/>
<rect x="518.4" y="0" width="1.6" height="365" fill="#000"/>
<rect x="0" y="363.1" width="520" height="1.9" fill="#000"/>
</svg></body></html>
